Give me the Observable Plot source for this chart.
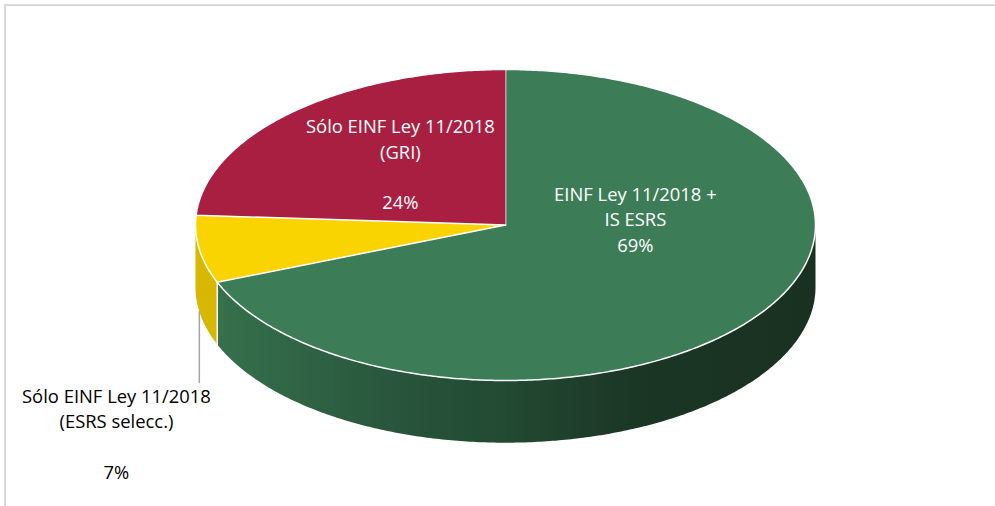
<!DOCTYPE html>
<html>
<head>
<meta charset="utf-8">
<script src="https://cdn.jsdelivr.net/npm/d3@7"></script>
<script src="https://cdn.jsdelivr.net/npm/@observablehq/plot@0.6"></script>
<style>
  html, body { margin: 0; padding: 0; background: #fff; }
  #chart { width: 995px; height: 506px; position: relative; overflow: hidden; }
</style>
</head>
<body>
<div id="chart"></div>
<script>
// ---- data ----
const categories = ["EINF Ley 11/2018 + IS ESRS", "Sólo EINF Ley 11/2018 (ESRS selecc.)", "Sólo EINF Ley 11/2018 (GRI)"];
const labelLines = [["EINF Ley 11/2018 +", "IS ESRS"], ["Sólo EINF Ley 11/2018", "(ESRS selecc.)", ""], ["Sólo EINF Ley 11/2018", "(GRI)", ""]];
const shares = [69, 7, 24];

// ---- styles / layout (not data) ----
const topColors = ["#3c7d58", "#fad400", "#a91f42"];
const sideColors = ["url(#sideGreen)", "#d8b700", "#871934"];
const labelColors = ["#ffffff", "#000000", "#ffffff"];
const labelAnchor = [[0.419, 0.045], [-1.255, -1.337], [-0.339, 0.397]]; // in pie units
const depth = 0.4;           // side height, in units of the vertical radius
const leaderEnd = -1.013;    // bottom of the leader line, pie units

const total = d3.sum(shares);
let acc = 0;
const slices = shares.map((v, i) => {
  const a0 = acc / total * 2 * Math.PI;
  acc += v;
  const a1 = acc / total * 2 * Math.PI;
  return {i, a0, a1, mid: (a0 + a1) / 2};
});

const pt = (t, dz = 0) => ({x: Math.sin(t), y: Math.cos(t) - dz});
function arc(t0, t1, dz) {
  const n = Math.max(2, Math.ceil(Math.abs(t1 - t0) / 0.01));
  return d3.range(n + 1).map(k => pt(t0 + (t1 - t0) * k / n, dz));
}

// top faces
const topPolys = slices.flatMap(s => [{x: 0, y: 0}, ...arc(s.a0, s.a1, 0)].map(p => ({...p, k: s.i})));
// visible side faces (front half: angle between PI/2 and 3PI/2)
const sidePolys = slices.flatMap(s => {
  const lo = Math.max(s.a0, Math.PI / 2), hi = Math.min(s.a1, 3 * Math.PI / 2);
  if (hi <= lo) return [];
  return [...arc(lo, hi, 0), ...arc(hi, lo, depth)].map(p => ({...p, k: s.i}));
});
// vertical edges between visible sides
const edges = slices.filter(s => s.a1 > Math.PI / 2 && s.a1 < 3 * Math.PI / 2)
  .flatMap(s => [pt(s.a1, 0), pt(s.a1, depth)].map(p => ({...p, k: s.i})));
// leader for the small slice
const ys = slices[1];
const leader = [pt(ys.mid, depth), {x: Math.sin(ys.mid), y: leaderEnd}];

const labels = slices.map(s => ({
  x: labelAnchor[s.i][0], y: labelAnchor[s.i][1],
  text: [...labelLines[s.i], shares[s.i] + "%"].join("\n"),
  k: s.i
}));

const defs = () => {
  const d = d3.create("svg:defs");
  const g = d.append("linearGradient").attr("id", "sideGreen").attr("x1", 0).attr("x2", 1).attr("y1", 0).attr("y2", 0);
  [[0, "#36704c"], [0.3, "#28553c"], [0.5, "#224831"], [0.7, "#1b3625"], [1, "#193120"]]
    .forEach(([o, c]) => g.append("stop").attr("offset", o).attr("stop-color", c));
  return d.node();
};

const chart = Plot.plot({
  width: 995,
  height: 506,
  margin: 0,
  x: {domain: [-1, 1], range: [195, 815], axis: null},
  y: {domain: [1, -1], range: [69, 380], axis: null},
  style: {fontFamily: "'Open Sans', sans-serif", background: "#fff"},
  marks: [
    defs,
    ...slices.filter(s => sidePolys.some(p => p.k === s.i)).map(s =>
      Plot.line(sidePolys.filter(p => p.k === s.i), {x: "x", y: "y", fill: sideColors[s.i], stroke: "none", curve: "linear"})
    ),
    Plot.line(edges, {x: "x", y: "y", z: "k", stroke: "#ffffff", strokeWidth: 1.5}),
    ...slices.map(s =>
      Plot.line(topPolys.filter(p => p.k === s.i), {x: "x", y: "y", fill: topColors[s.i], stroke: "#ffffff", strokeWidth: 1.5, strokeLinejoin: "round"})
    ),
    Plot.line(leader, {x: "x", y: "y", stroke: "#a6a6a6", strokeWidth: 1.5}),
    Plot.text(labels, {x: "x", y: "y", text: "text", fill: d => labelColors[d.k], fontSize: 18.4, lineHeight: 1.38, textAnchor: "middle", lineAnchor: "middle"})
  ]
});

const host = document.getElementById("chart");
host.appendChild(chart);
// outer chart-area border (extends beyond the right/bottom edges)
const border = document.createElement("div");
border.style.cssText = "position:absolute;left:4px;top:4px;width:1010px;height:520px;border:2px solid #d9d9d9;box-sizing:border-box;pointer-events:none;";
host.appendChild(border);
</script>
</body>
</html>
